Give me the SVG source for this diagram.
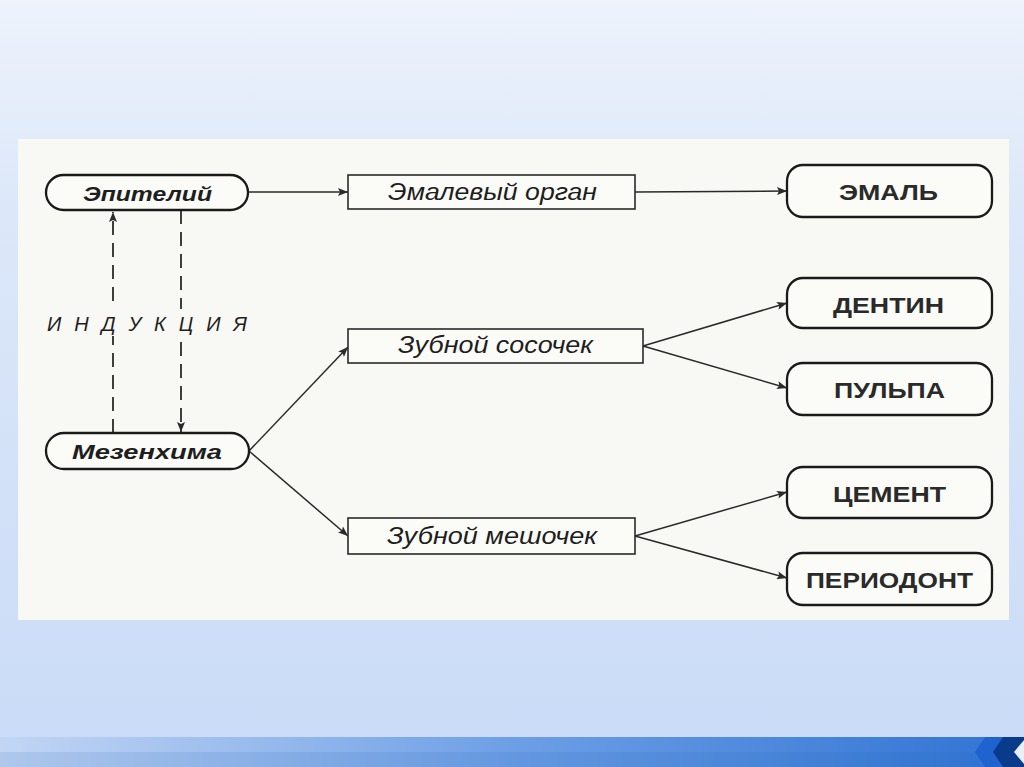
<svg xmlns="http://www.w3.org/2000/svg" width="1024" height="767" viewBox="0 0 1024 767">
<defs>
<linearGradient id="bg" x1="0" y1="0" x2="0" y2="1">
<stop offset="0" stop-color="#eef3fc"/>
<stop offset="0.25" stop-color="#dde8f9"/>
<stop offset="1" stop-color="#c9dbf7"/>
</linearGradient>
<linearGradient id="bar" x1="0" y1="0" x2="1" y2="0">
<stop offset="0" stop-color="#c3d6f4"/>
<stop offset="0.5" stop-color="#6d9fe6"/>
<stop offset="1" stop-color="#2f73d3"/>
</linearGradient>
<marker id="ah" viewBox="0 0 10 8" refX="10" refY="4" markerWidth="11" markerHeight="8" markerUnits="userSpaceOnUse" orient="auto">
<path d="M0,0 L10,4 L0,8 L2,4 Z" fill="#2a2a2a"/>
</marker>
<style>
.pill{fill:#fbfbf8;stroke:#1a1a1a;stroke-width:2.3}
.box{fill:#fbfbf8;stroke:#2a2a2a;stroke-width:1.6}
.src{font-family:"Liberation Sans",Arial,sans-serif;font-weight:bold;font-style:italic;font-size:21px;fill:#1e1e1e}
.mid{font-family:"Liberation Sans",Arial,sans-serif;font-style:italic;font-size:23px;fill:#1e1e1e}
.res{font-family:"Liberation Sans",Arial,sans-serif;font-weight:bold;font-size:22px;fill:#2a2a2a}
.ind{font-family:"Liberation Sans",Arial,sans-serif;font-style:italic;font-size:20px;fill:#1e1e1e}
.ln{fill:none;stroke:#2a2a2a;stroke-width:1.5}
.dash{fill:none;stroke:#2a2a2a;stroke-width:1.8;stroke-dasharray:14,8}
</style>
</defs>
<rect x="0" y="0" width="1024" height="767" fill="url(#bg)"/>
<rect x="0" y="737" width="1024" height="30" fill="url(#bar)"/>
<rect x="0" y="752" width="1024" height="15" fill="#1f5fb8" opacity="0.12"/>
<path d="M1000,737 L1024,737 L1024,767 L1000,767 L990,752 Z" fill="#0a3a8a"/>
<path d="M985,737 L1003,737 L993,752 L1003,767 L985,767 L975,752 Z" fill="#1e63d0"/>
<path d="M1024,740 L1014,752 L1024,764 Z" fill="#e8f0fb"/>
<rect x="18" y="139" width="991" height="481" fill="#f8f8f5"/>

<g id="connectors">
<line class="ln" x1="248" y1="192" x2="348" y2="192" marker-end="url(#ah)"/>
<line class="ln" x1="635" y1="192" x2="787" y2="191" marker-end="url(#ah)"/>
<line class="ln" x1="249" y1="451" x2="348" y2="347" marker-end="url(#ah)"/>
<line class="ln" x1="249" y1="451" x2="348" y2="536" marker-end="url(#ah)"/>
<line class="ln" x1="643" y1="346" x2="787" y2="303" marker-end="url(#ah)"/>
<line class="ln" x1="643" y1="346" x2="787" y2="388" marker-end="url(#ah)"/>
<line class="ln" x1="635" y1="536" x2="787" y2="492" marker-end="url(#ah)"/>
<line class="ln" x1="635" y1="536" x2="787" y2="578" marker-end="url(#ah)"/>
<line class="dash" x1="113" y1="433" x2="113" y2="212" marker-end="url(#ah)"/>
<line class="dash" x1="181" y1="210" x2="181" y2="432" marker-end="url(#ah)"/>
</g>

<g id="induction-label">
<rect x="44" y="309" width="208" height="27" fill="#f8f8f5"/>
<text class="ind" x="47" y="331" textLength="200">ИНДУКЦИЯ</text>
</g>

<g id="epiteliy">
<rect class="pill" x="46" y="175" width="202" height="35" rx="17.5"/>
<text class="src" x="83" y="201" textLength="129" lengthAdjust="spacingAndGlyphs">Эпителий</text>
</g>
<g id="mezenhima">
<rect class="pill" x="46" y="433" width="203" height="36" rx="18"/>
<text class="src" x="72" y="459" textLength="150" lengthAdjust="spacingAndGlyphs">Мезенхима</text>
</g>

<g id="emalevyi-organ">
<rect class="box" x="348" y="175" width="287" height="34"/>
<text class="mid" x="388" y="200" textLength="209" lengthAdjust="spacingAndGlyphs">Эмалевый орган</text>
</g>
<g id="zubnoy-sosochek">
<rect class="box" x="348" y="329" width="295" height="34"/>
<text class="mid" x="398" y="353" textLength="195" lengthAdjust="spacingAndGlyphs">Зубной сосочек</text>
</g>
<g id="zubnoy-meshochek">
<rect class="box" x="348" y="518" width="287" height="36"/>
<text class="mid" x="387" y="544" textLength="210" lengthAdjust="spacingAndGlyphs">Зубной мешочек</text>
</g>

<g id="emal">
<rect class="pill" x="787" y="165" width="205" height="52" rx="16"/>
<text class="res" x="839" y="200" textLength="99" lengthAdjust="spacingAndGlyphs">ЭМАЛЬ</text>
</g>
<g id="dentin">
<rect class="pill" x="787" y="278" width="205" height="50" rx="16"/>
<text class="res" x="833" y="313" textLength="111" lengthAdjust="spacingAndGlyphs">ДЕНТИН</text>
</g>
<g id="pulpa">
<rect class="pill" x="787" y="363" width="205" height="52" rx="16"/>
<text class="res" x="834" y="398" textLength="111" lengthAdjust="spacingAndGlyphs">ПУЛЬПА</text>
</g>
<g id="cement">
<rect class="pill" x="787" y="467" width="205" height="51" rx="16"/>
<text class="res" x="833" y="502" textLength="113" lengthAdjust="spacingAndGlyphs">ЦЕМЕНТ</text>
</g>
<g id="periodont">
<rect class="pill" x="787" y="553" width="205" height="52" rx="16"/>
<text class="res" x="806" y="588" textLength="167" lengthAdjust="spacingAndGlyphs">ПЕРИОДОНТ</text>
</g>
</svg>
